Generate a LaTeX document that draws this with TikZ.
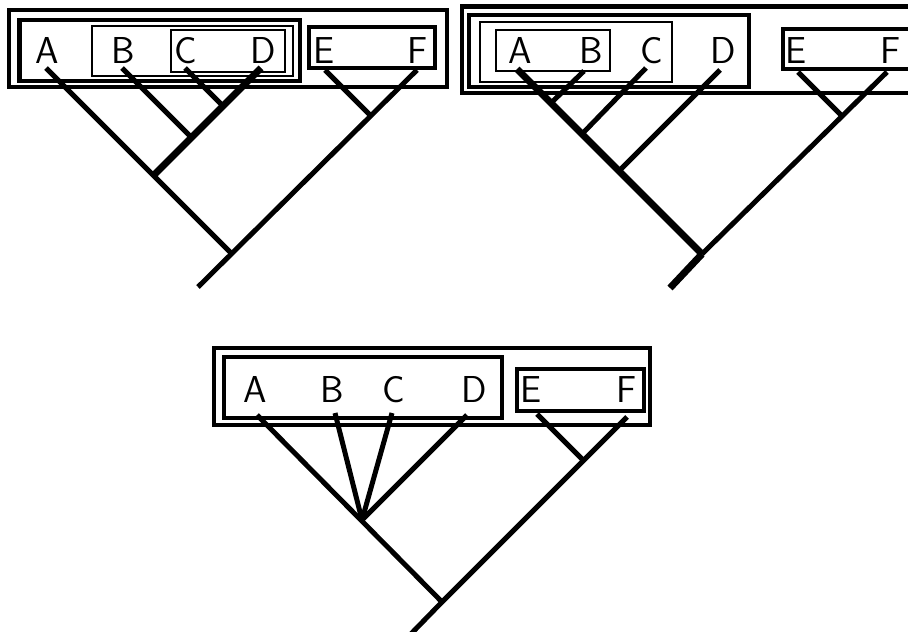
\documentclass[tikz,border=0pt]{standalone}
\begin{document}
\begin{tikzpicture}[x=1pt,y=-1pt,
  lbl/.style={font=\fontsize{37.5}{40}\selectfont\sffamily, anchor=base, inner sep=0pt},
  br/.style={line width=5pt},
  brthick/.style={line width=7pt},
  boxthick/.style={line width=4.3pt},
  boxthin/.style={line width=1.6pt}]
\useasboundingbox (0,0) rectangle (908,632);
\clip (0,0) rectangle (908,632);
% ---------- Panel 1 ----------
\draw[boxthick] (9,10) rectangle (447,87);
\draw[boxthick] (19.5,20) rectangle (300,81);
\draw[boxthin] (92,26) rectangle (293,76);
\draw[boxthin] (171,30) rectangle (285,72);
\draw[boxthick] (309,27) rectangle (435,68);
\node[lbl] (A1) at (47.5,63) {A};
\node[lbl] (B1) at (123,63) {B};
\node[lbl] (C1) at (186,63) {C};
\node[lbl] (D1) at (263,63) {D};
\node[lbl] (E1) at (324,63) {E};
\node[lbl] (F1) at (418,63) {F};
\coordinate (ta1) at (46,68);
\coordinate (tb1) at (122,68);
\coordinate (tc1) at (185,68);
\coordinate (td1) at (261,68);
\coordinate (te1) at (325,70);
\coordinate (tf1) at (417,70);
\coordinate (cd1) at (223,106);
\coordinate (bcd1) at (191.5,137.5);
\coordinate (abcd1) at (153.5,175.5);
\coordinate (r1) at (231.5,253.5);
\coordinate (ef1) at (371,116);
\coordinate (s1) at (198,287);
\draw[br] (ta1) -- (r1);
\draw[br] (tb1) -- (bcd1);
\draw[br] (tc1) -- (cd1);
\draw[brthick] (td1) -- (abcd1);
\draw[br] (te1) -- (ef1);
\draw[br] (tf1) -- (s1);
% ---------- Panel 2 ----------
\draw[boxthick] (462,6.5) rectangle (940,93);
\draw[boxthick] (469,15) rectangle (749,87);
\draw[boxthin] (480,22) rectangle (672,82);
\draw[boxthin] (496,30) rectangle (610,71);
\draw[boxthick] (783,29) rectangle (940,69);
\node[lbl] (A2) at (520,63) {A};
\node[lbl] (B2) at (591,63) {B};
\node[lbl] (C2) at (652,63) {C};
\node[lbl] (D2) at (723,63) {D};
\node[lbl] (E2) at (796,63) {E};
\node[lbl] (F2) at (891,63) {F};
\coordinate (ta2) at (517,69);
\coordinate (tb2) at (584,71);
\coordinate (tc2) at (646,68);
\coordinate (td2) at (720,70);
\coordinate (te2) at (798,72);
\coordinate (tf2) at (887,72);
\coordinate (ab2) at (551,103);
\coordinate (abc2) at (582,134);
\coordinate (abcd2) at (619,171);
\coordinate (r2) at (702,254);
\coordinate (ef2) at (842.5,116.5);
\coordinate (s2) at (670,288);
\draw[brthick] (ta2) -- (r2);
\draw[br] (tb2) -- (ab2);
\draw[br] (tc2) -- (abc2);
\draw[br] (td2) -- (abcd2);
\draw[br] (te2) -- (ef2);
\draw[br] (tf2) -- (r2);
\draw[brthick] (r2) -- (s2);
% ---------- Panel 3 ----------
\draw[boxthick] (214,348) rectangle (650,425);
\draw[boxthick] (224,357) rectangle (502,418);
\draw[boxthick] (517,369) rectangle (644,411);
\node[lbl] (A3) at (255,402) {A};
\node[lbl] (B3) at (332,402) {B};
\node[lbl] (C3) at (394,402) {C};
\node[lbl] (D3) at (474,402) {D};
\node[lbl] (E3) at (531,402) {E};
\node[lbl] (F3) at (627,402) {F};
\coordinate (ta3) at (257,415);
\coordinate (tb3) at (335,413);
\coordinate (tc3) at (392,413);
\coordinate (td3) at (467,415);
\coordinate (te3) at (537,414);
\coordinate (tf3) at (627,417);
\coordinate (p3) at (362,520);
\coordinate (ef3) at (583,460);
\coordinate (r3) at (442,602);
\coordinate (s3) at (405,640);
\draw[br] (ta3) -- (r3);
\draw[br] (tb3) -- (p3);
\draw[br] (tc3) -- (p3);
\draw[br] (td3) -- (p3);
\draw[br] (te3) -- (ef3);
\draw[br] (tf3) -- (r3) -- (s3);
\end{tikzpicture}
\end{document}
